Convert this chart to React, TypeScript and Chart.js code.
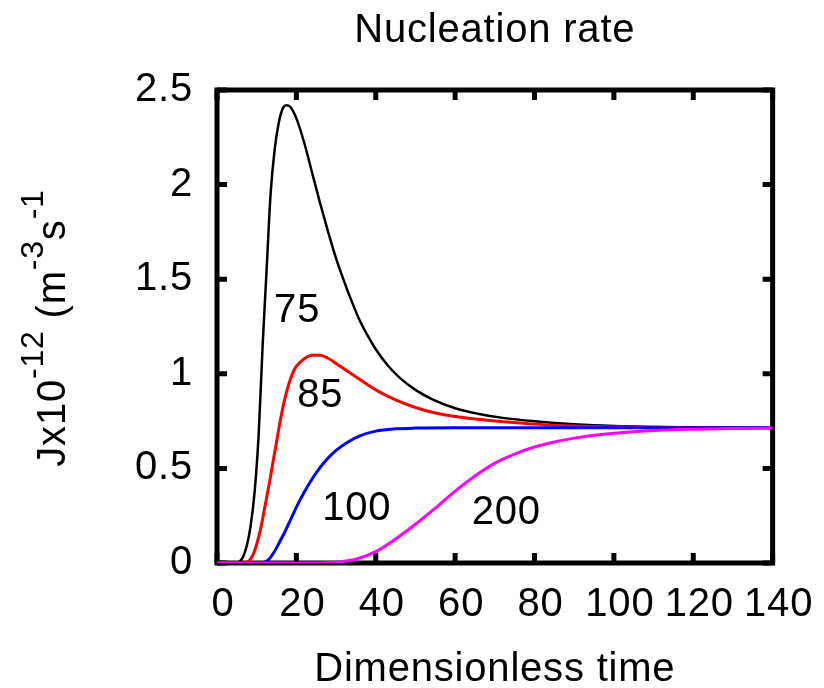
import React, { useEffect, useRef } from "react";
import { Chart, registerables } from "chart.js";

Chart.register(...registerables);

const FONT = "'Liberation Sans', Arial, Helvetica, sans-serif";

// Chart text
const chartTitle = "Nucleation rate";
const xAxisTitle = "Dimensionless time";
// y-axis title as [text, isSuperscript] pieces
const yTitleParts: [string, boolean][] = [
  ["Jx10", false],
  ["-12", true],
  [" (m", false],
  ["-3", true],
  ["s", false],
  ["-1", true],
];

// Axis ranges / ticks
const xMin = 0;
const xMax = 140;
const xStep = 20;
const yMin = 0;
const yMax = 2.5;
const yStep = 0.5;

// Series: 75 (black)
const t75 = [0, 4, 5.5, 6.5, 7.5, 8.5, 9.5, 10.5, 11.5, 12.5, 13.5, 14.5, 15.5, 16.5, 17.5, 18.5, 20, 22, 24, 26, 28, 30, 32, 34, 36, 38, 40, 43, 46, 50, 54, 60, 66, 72, 80, 90, 100, 120, 140];
const j75 = [0, 0, 0.005, 0.03, 0.09, 0.2, 0.38, 0.68, 1.15, 1.55, 1.95, 2.18, 2.32, 2.4, 2.42, 2.41, 2.35, 2.22, 2.06, 1.9, 1.75, 1.61, 1.49, 1.38, 1.28, 1.2, 1.13, 1.045, 0.98, 0.915, 0.868, 0.818, 0.788, 0.767, 0.749, 0.733, 0.724, 0.717, 0.715];

// Series: 85 (red)
const t85 = [0, 7, 8, 9, 10, 11, 12, 13, 14, 15, 16, 17, 18, 19, 20, 22, 24, 26, 28, 30, 33, 36, 40, 45, 50, 55, 60, 70, 80, 90, 100, 120, 140];
const j85 = [0, 0, 0.01, 0.04, 0.1, 0.18, 0.29, 0.4, 0.52, 0.64, 0.76, 0.86, 0.94, 1.0, 1.04, 1.08, 1.098, 1.098, 1.082, 1.055, 1.012, 0.97, 0.915, 0.862, 0.822, 0.793, 0.774, 0.75, 0.734, 0.724, 0.719, 0.715, 0.715];

// Series: 100 (blue)
const t100 = [0, 11, 12, 13, 14, 15, 16, 17, 18, 19, 20, 22, 24, 26, 28, 30, 33, 36, 40, 45, 50, 60, 80, 140];
const j100 = [0, 0, 0.004, 0.018, 0.045, 0.08, 0.12, 0.16, 0.205, 0.25, 0.295, 0.375, 0.445, 0.505, 0.555, 0.595, 0.64, 0.672, 0.697, 0.709, 0.713, 0.715, 0.715, 0.715];

// Series: 200 (magenta)
const t200 = [0, 25, 30, 35, 40, 45, 50, 55, 60, 65, 70, 75, 80, 85, 90, 95, 100, 110, 120, 130, 140];
const j200 = [0, 0, 0.004, 0.02, 0.06, 0.127, 0.205, 0.29, 0.38, 0.46, 0.528, 0.576, 0.613, 0.64, 0.66, 0.675, 0.686, 0.7, 0.707, 0.711, 0.713];

// In-plot curve labels (data coordinates of text centre / baseline)
const curveLabels = ["75", "85", "100", "200"];
const curveLabelX = [20.2, 26.0, 35.2, 72.9];
const curveLabelY = [1.274, 0.825, 0.227, 0.206];

const toPoints = (xs: number[], ys: number[]) => xs.map((x, i) => ({ x, y: ys[i] }));

const LETTER_SPACING = "0.8px";

const framePlugin = {
  id: "gnuplotFrame",
  beforeDraw(chart: any) {
    (chart.ctx as any).letterSpacing = LETTER_SPACING;
  },
  beforeDatasetsDraw(chart: any) {
    const { ctx, chartArea } = chart;
    const { left, right, top, bottom } = chartArea;
    const xs = chart.scales.x;
    const ys = chart.scales.y;
    ctx.save();
    ctx.strokeStyle = "#000";
    ctx.lineWidth = 5;
    ctx.lineCap = "butt";
    const tickLen = 10;
    ctx.beginPath();
    xs.ticks.forEach((tk: any) => {
      const px = xs.getPixelForValue(tk.value);
      ctx.moveTo(px, bottom);
      ctx.lineTo(px, bottom - tickLen);
      ctx.moveTo(px, top);
      ctx.lineTo(px, top + tickLen);
    });
    ys.ticks.forEach((tk: any) => {
      const py = ys.getPixelForValue(tk.value);
      ctx.moveTo(left, py);
      ctx.lineTo(left + tickLen, py);
      ctx.moveTo(right, py);
      ctx.lineTo(right - tickLen, py);
    });
    ctx.stroke();
    ctx.lineJoin = "miter";
    ctx.strokeRect(left, top, right - left, bottom - top);
    ctx.restore();
  },
  afterDatasetsDraw(chart: any) {
    const { ctx, chartArea } = chart;
    const { left, right, top, bottom } = chartArea;
    const xs = chart.scales.x;
    const ys = chart.scales.y;
    ctx.save();
    (ctx as any).letterSpacing = LETTER_SPACING;
    ctx.fillStyle = "#000";
    ctx.font = `40px ${FONT}`;
    ctx.textAlign = "center";
    ctx.textBaseline = "alphabetic";
    curveLabels.forEach((lab, i) => {
      ctx.fillText(lab, xs.getPixelForValue(curveLabelX[i]), ys.getPixelForValue(curveLabelY[i]));
    });
    // title
    ctx.fillText(chartTitle, (left + right) / 2, top - 48);
    // x axis title
    ctx.fillText(xAxisTitle, (left + right) / 2, bottom + 118);
    // y axis title, rotated, with superscripts
    const mainFont = `40px ${FONT}`;
    const supFont = `32px ${FONT}`;
    let total = 0;
    const widths = yTitleParts.map(([txt, sup]) => {
      ctx.font = sup ? supFont : mainFont;
      const w = ctx.measureText(txt).width;
      total += w;
      return w;
    });
    ctx.translate(65, (top + bottom) / 2 + 1.5);
    ctx.rotate(-Math.PI / 2);
    ctx.textAlign = "left";
    let cx = -total / 2;
    yTitleParts.forEach(([txt, sup], i) => {
      ctx.font = sup ? supFont : mainFont;
      ctx.fillText(txt, cx, sup ? -22 : 0);
      cx += widths[i];
    });
    ctx.restore();
  },
};

export default function App() {
  const canvasRef = useRef<HTMLCanvasElement | null>(null);

  useEffect(() => {
    const canvas = canvasRef.current;
    if (!canvas) return;
    const chart = new Chart(canvas, {
      type: "line",
      data: {
        datasets: [
          { label: "75", data: toPoints(t75, j75), borderColor: "#000000", borderWidth: 2.5, order: 4 },
          { label: "85", data: toPoints(t85, j85), borderColor: "#ff0000", borderWidth: 3, order: 3 },
          { label: "100", data: toPoints(t100, j100), borderColor: "#0000ff", borderWidth: 3, order: 2 },
          { label: "200", data: toPoints(t200, j200), borderColor: "#ff00ff", borderWidth: 3, order: 1 },
        ].map((d) => ({ ...d, pointRadius: 0, fill: false, cubicInterpolationMode: "monotone" as const })),
      },
      options: {
        responsive: false,
        animation: false,
        devicePixelRatio: 1,
        layout: { padding: { top: 90, right: 46, bottom: 0, left: 0 } },
        plugins: { legend: { display: false }, tooltip: { enabled: false }, title: { display: false } },
        scales: {
          x: {
            type: "linear",
            min: xMin,
            max: xMax,
            grid: { display: false, drawTicks: false },
            border: { display: false },
            ticks: {
              stepSize: xStep,
              color: "#000",
              font: { family: FONT, size: 40 },
              padding: 18,
              labelOffset: 6,
              maxRotation: 0,
              autoSkip: false,
              callback: (v: any) => String(v),
            },
            afterFit: (s: any) => {
              s.height = 125;
            },
          },
          y: {
            type: "linear",
            min: yMin,
            max: yMax,
            grid: { display: false, drawTicks: false },
            border: { display: false },
            ticks: {
              stepSize: yStep,
              color: "#000",
              font: { family: FONT, size: 40 },
              padding: 24,
              autoSkip: false,
              callback: (v: any) => String(v),
            },
            afterFit: (s: any) => {
              s.width = 217;
            },
          },
        },
      },
      plugins: [framePlugin],
    });
    return () => chart.destroy();
  }, []);

  return (
    <div style={{ position: "absolute", left: 0, top: 0, width: 824, height: 688, background: "#fff" }}>
      <canvas ref={canvasRef} width={824} height={688} style={{ display: "block", width: 824, height: 688 }} />
    </div>
  );
}
